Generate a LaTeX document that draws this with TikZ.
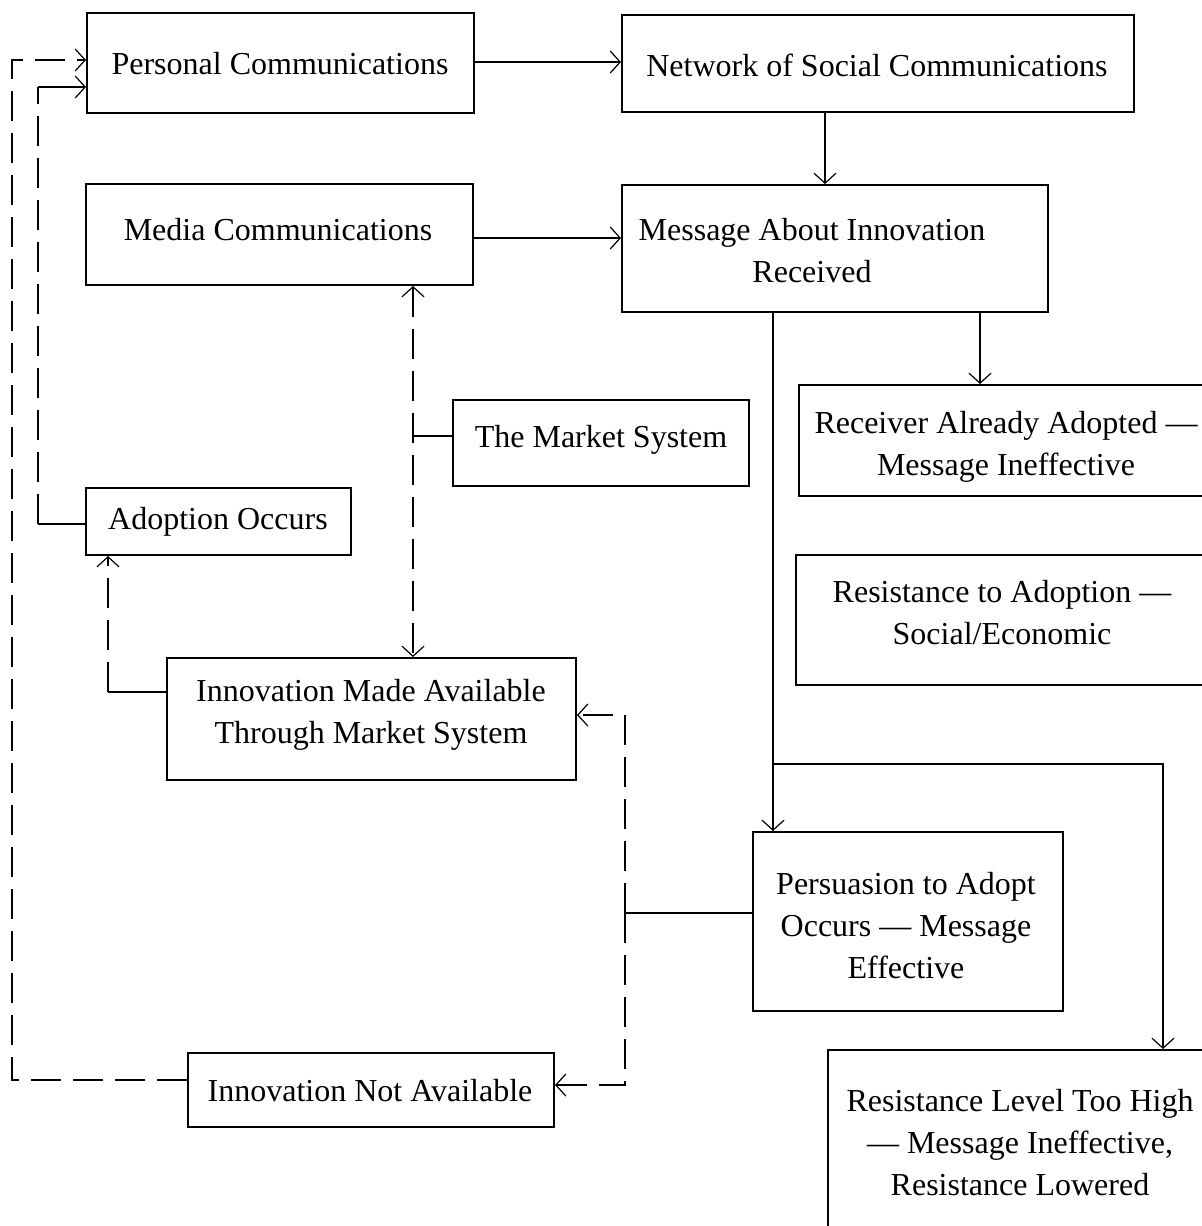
\documentclass[tikz,border=0pt]{standalone}
\usepackage{fontspec}
\setmainfont{Liberation Serif}
\usetikzlibrary{arrows.meta,fit}
\begin{document}
\begin{tikzpicture}[x=0.5pt,y=-0.5pt,
  box/.style={draw, line width=1pt, inner sep=0pt},
  txt/.style={font=\fontsize{16}{21}\selectfont, align=center, inner sep=0pt},
  solidc/.style={line width=0.8pt},
  dashc/.style={line width=1.2pt, dash pattern=on 15pt off 6pt},
  arr/.style={-{Straight Barb[length=5pt,width=11pt,line width=0.6pt]}},
  arrboth/.style={{Straight Barb[length=5pt,width=11pt,line width=0.6pt]}-{Straight Barb[length=5pt,width=11pt,line width=0.6pt]}}]
\clip (0,0) rectangle (1202,1226);
\fill[white] (0,0) rectangle (1202,1226);

% boxes
\node[box, fit={(87,13) (474,113)}] (pc) {};
\node[txt] (pct) at (280,64) {Personal Communications};
\node[box, fit={(622,15) (1134,112)}] (net) {};
\node[txt] (nett) at (877,65) {Network of Social Communications};
\node[box, fit={(86,184) (473,285)}] (med) {};
\node[txt] (medt) at (278,230) {Media Communications};
\node[box, fit={(622,185) (1048,312)}] (msg) {};
\node[txt] (msgt) at (812,251) {Message About Innovation\\Received};
\node[box, fit={(799,385) (1215,496)}] (rec) {};
\node[txt] (rect) at (1006,447) {Receiver Already Adopted —\\Message Ineffective};
\node[box, fit={(796,555) (1215,685)}] (res) {};
\node[txt] (rest) at (1002,613) {Resistance to Adoption —\\Social/Economic};
\node[box, fit={(453,400) (749,486)}] (mkt) {};
\node[txt] (mktt) at (601,440) {The Market System};
\node[box, fit={(86,488) (351,555)}] (ao) {};
\node[txt] (aot) at (218,522) {Adoption Occurs};
\node[box, fit={(167,658) (576,780)}] (ima) {};
\node[txt] (imat) at (371,715) {Innovation Made Available\\Through Market System};
\node[box, fit={(753,832) (1063,1011)}] (per) {};
\node[txt] (pert) at (906,926) {Persuasion to Adopt\\Occurs — Message\\Effective};
\node[box, fit={(188,1053) (554,1127)}] (ina) {};
\node[txt] (inat) at (370,1091) {Innovation Not Available};
\node[box, fit={(828,1050) (1215,1240)}] (rlh) {};
\node[txt] (rlht) at (1020,1143) {Resistance Level Too High\\— Message Ineffective,\\Resistance Lowered};

% solid connectors
\draw[solidc,arr] (pc.east |- 0,62) -- (net.west |- 0,62);
\draw[solidc,arr] (net.south -| 825,0) -- (msg.north -| 825,0);
\draw[solidc,arr] (med.east |- 0,238) -- (msg.west |- 0,238);
\draw[solidc,arr] (msg.south -| 980,0) -- (rec.north -| 980,0);
\draw[solidc,arr] (msg.south -| 773,0) -- (per.north -| 773,0);
\coordinate (br) at (773,764);
\draw[solidc,arr] (br) -| (rlh.north -| 1163,0);
\coordinate (jr) at (625,913);
\draw[solidc] (per.west |- jr) -- (jr);
\coordinate (jm) at (413,436);
\draw[solidc] (mkt.west |- jm) -- (jm);

% dashed connectors
\draw[dashc,arr] (jr) |- (ima.east |- 0,715);
\draw[dashc,arr] (jr) |- (ina.east |- 0,1085);
\draw[dashc,arrboth] (med.south -| jm) -- (ima.north -| jm);
\coordinate (ja) at (108,692);
\draw[solidc] (ima.west |- ja) -- (ja);
\draw[dashc,arr] (ja) -- (ao.south -| ja);
\coordinate (jb) at (38,524);
\coordinate (jc) at (38,87);
\draw[solidc] (ao.west |- jb) -- (jb);
\draw[dashc] (jb) -- (jc);
\draw[solidc,arr] (jc) -- (pc.west |- jc);
\coordinate (jd) at (12,60);
\draw[dashc,arr] (ina.west |- 0,1080) -| (jd) -- (pc.west |- jd);
\end{tikzpicture}
\end{document}
